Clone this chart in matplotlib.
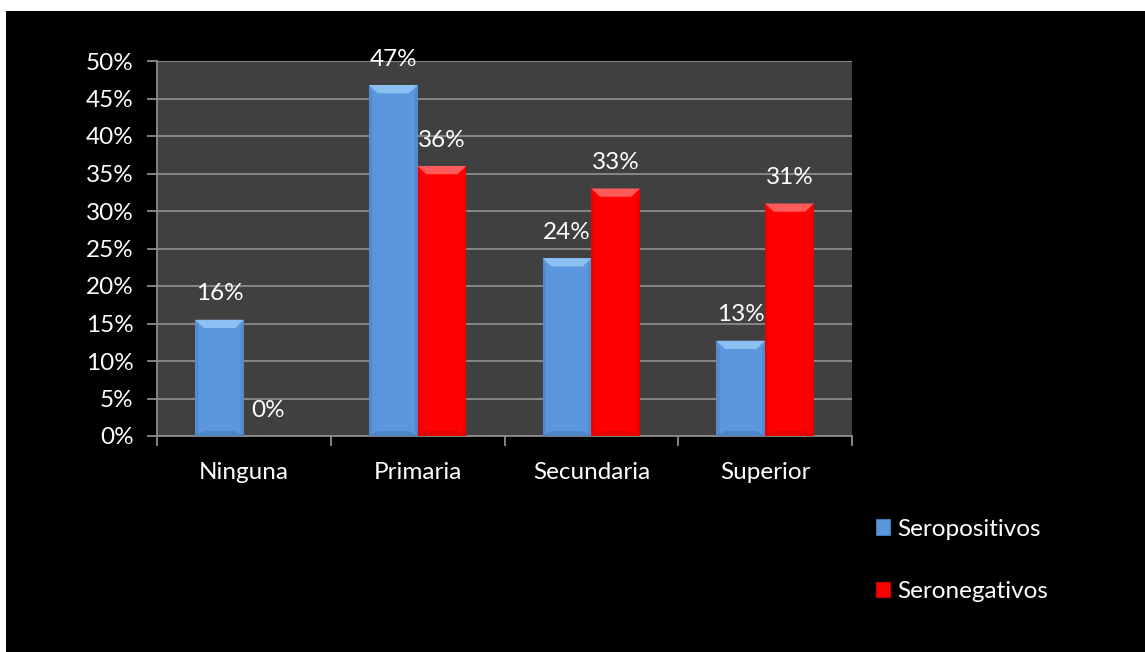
import matplotlib
matplotlib.use("Agg")
import matplotlib.pyplot as plt
from matplotlib.patches import Polygon, Rectangle, Patch
from matplotlib.ticker import FuncFormatter
import numpy as np

plt.rcParams['font.family'] = ['Lato', 'DejaVu Sans']

categories = ["Ninguna", "Primaria", "Secundaria", "Superior"]
seropositivos = [0.155, 0.468, 0.237, 0.127]
seronegativos = [0.0, 0.36, 0.33, 0.31]
series_names = ["Seropositivos", "Seronegativos"]
yticks = [0.0, 0.05, 0.10, 0.15, 0.20, 0.25, 0.30, 0.35, 0.40, 0.45, 0.50]

blue, blue_top, blue_dark = "#5B97DD", "#8DC0F2", "#3F74B5"
red, red_top, red_dark = "#FF0000", "#FF5A5A", "#C80000"
FS = 17.5

W, H = 1145, 652
fig = plt.figure(figsize=(W / 100, H / 100), dpi=100, facecolor="white")
# black slide area (leaves a thin white margin at top and left)
fig.patches.append(Rectangle((6 / W, 0), 1 - 6 / W, 1 - 11 / H,
                             transform=fig.transFigure, facecolor="black",
                             edgecolor="none", zorder=-10))

ax = fig.add_axes([157 / W, 1 - 436 / H, (852 - 157) / W, (436 - 61) / H])
ax.set_facecolor("#404040")

x = np.arange(len(categories))
width = 0.28

bars_pos = ax.bar(x - width / 2, seropositivos, width, color=blue, zorder=3,
                  linewidth=0)
bars_neg = ax.bar(x + width / 2, seronegativos, width, color=red, zorder=3,
                  linewidth=0)

# bevel shading on each bar
dx, dy = 0.05, 0.011
for bars, top_c, dark_c in ((bars_pos, blue_top, blue_dark),
                            (bars_neg, red_top, red_dark)):
    for b in bars:
        h = b.get_height()
        if h <= 0:
            continue
        x0, x1 = b.get_x(), b.get_x() + b.get_width()
        d = min(dy, h / 2)
        ax.add_patch(Polygon([(x0, h), (x1, h), (x1 - dx, h - d), (x0 + dx, h - d)],
                             closed=True, facecolor=top_c, edgecolor="none",
                             zorder=4))
        ax.add_patch(Polygon([(x0, 0), (x1, 0), (x1 - dx, d * 0.6), (x0 + dx, d * 0.6)],
                             closed=True, facecolor=dark_c, edgecolor="none",
                             alpha=0.5, zorder=4))
        ax.add_patch(Polygon([(x0, 0), (x0, h), (x0 + dx * 0.35, h - d), (x0 + dx * 0.35, 0)],
                             closed=True, facecolor=dark_c, edgecolor="none",
                             alpha=0.35, zorder=4))
        ax.add_patch(Polygon([(x1, 0), (x1, h), (x1 - dx * 0.35, h - d), (x1 - dx * 0.35, 0)],
                             closed=True, facecolor=dark_c, edgecolor="none",
                             alpha=0.35, zorder=4))

# value labels
for bars in (bars_pos, bars_neg):
    for b in bars:
        v = b.get_height()
        ax.annotate(f"{round(v * 100):.0f}%",
                    xy=(b.get_x() + b.get_width() / 2, v),
                    xytext=(0, 11), textcoords="offset points",
                    ha="center", va="bottom", color="white", fontsize=FS,
                    annotation_clip=False, zorder=5)

ax.set_xlim(-0.5, len(categories) - 0.5)
ax.set_ylim(0, 0.5)
ax.set_yticks(yticks)
ax.yaxis.set_major_formatter(FuncFormatter(lambda v, p: f"{round(v * 100):.0f}%"))
ax.grid(axis="y", color="#8C8C8C", linewidth=1.3, zorder=1)
ax.set_axisbelow(True)

ax.set_xticks(x)
ax.set_xticklabels(categories)
ax.set_xticks(np.arange(len(categories) + 1) - 0.5, minor=True)
ax.tick_params(axis="x", which="major", length=0, pad=19, labelsize=FS,
               labelcolor="white")
ax.tick_params(axis="x", which="minor", length=7, width=1.3, color="#8C8C8C")
ax.tick_params(axis="y", length=7, width=1.3, color="#8C8C8C", labelsize=FS,
               labelcolor="white", pad=10)

for side in ("top", "right"):
    ax.spines[side].set_visible(False)
for side in ("left", "bottom"):
    ax.spines[side].set_color("#8C8C8C")
    ax.spines[side].set_linewidth(1.3)

handles = [Patch(facecolor=blue, edgecolor=blue_dark, linewidth=0.8),
           Patch(facecolor=red, edgecolor=red_dark, linewidth=0.8)]
fig.legend(handles, series_names, loc="upper left",
           bbox_to_anchor=(866 / W, 1 - 509 / H), frameon=False,
           fontsize=FS, labelcolor="white", handlelength=0.6,
           handleheight=0.6, handletextpad=0.3, labelspacing=1.7,
           borderaxespad=0)

fig.savefig("out.png", dpi=100, facecolor=fig.get_facecolor())
